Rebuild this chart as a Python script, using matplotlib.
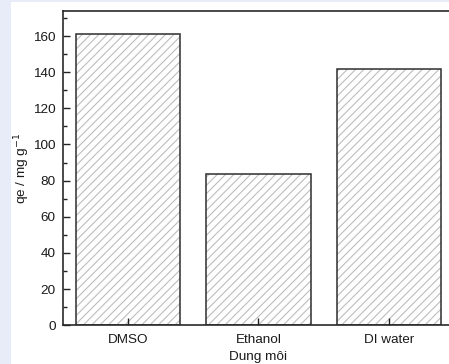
import matplotlib
matplotlib.use("Agg")
import matplotlib.pyplot as plt
from matplotlib.patches import Rectangle
from matplotlib.ticker import MultipleLocator

plt.rcParams['font.family'] = ['Liberation Sans', 'DejaVu Sans']
plt.rcParams['font.size'] = 9.7
plt.rcParams['hatch.linewidth'] = 0.8

# data
solvents = ['DMSO', 'Ethanol', 'DI water']
qe_values = [161.3, 83.8, 141.8]

W, H = 449, 364
fig = plt.figure(figsize=(W / 100, H / 100), dpi=100)
fig.patch.set_facecolor('#e8ecf8')
# white page area (the light blue strip shows on the left and top)
fig.patches.append(Rectangle((11 / W, 0), 1, 1 - 2 / H, transform=fig.transFigure,
                             facecolor='white', edgecolor='none', zorder=-10))

ax = fig.add_axes([62.7 / W, 38.7 / H, (454 - 62.7) / W, (325.3 - 10.7) / H])
ax.set_facecolor('none')

x = list(range(len(solvents)))
# light grey hatch fill, then the dark outline on top
ax.bar(x, qe_values, width=0.8, facecolor='white', edgecolor='#bdbdbd',
       linewidth=0, hatch='////')
ax.bar(x, qe_values, width=0.8, facecolor='none', edgecolor='#2e2e2e',
       linewidth=1.1)

ax.set_xlim(-0.5, 2.5)
ax.set_ylim(0, 174)
ax.set_xticks(x)
ax.set_xticklabels(solvents)
ax.yaxis.set_major_locator(MultipleLocator(20))
ax.yaxis.set_minor_locator(MultipleLocator(10))

ax.tick_params(axis='both', which='major', direction='in', length=5, width=1,
               color='#222222', labelcolor='#1a1a1a')
ax.tick_params(axis='y', which='minor', direction='in', length=3, width=1, color='#222222')
ax.tick_params(axis='y', which='major', pad=5)
ax.tick_params(axis='x', which='major', pad=6)

for s in ax.spines.values():
    s.set_linewidth(1.2)
    s.set_color('#2a2a2a')

ax.set_ylabel('qe / mg g$^{-1}$', color='#1a1a1a', labelpad=1)
ax.set_xlabel('Dung môi', color='#1a1a1a', labelpad=4)

fig.savefig('out.png', dpi=100, facecolor=fig.get_facecolor())
